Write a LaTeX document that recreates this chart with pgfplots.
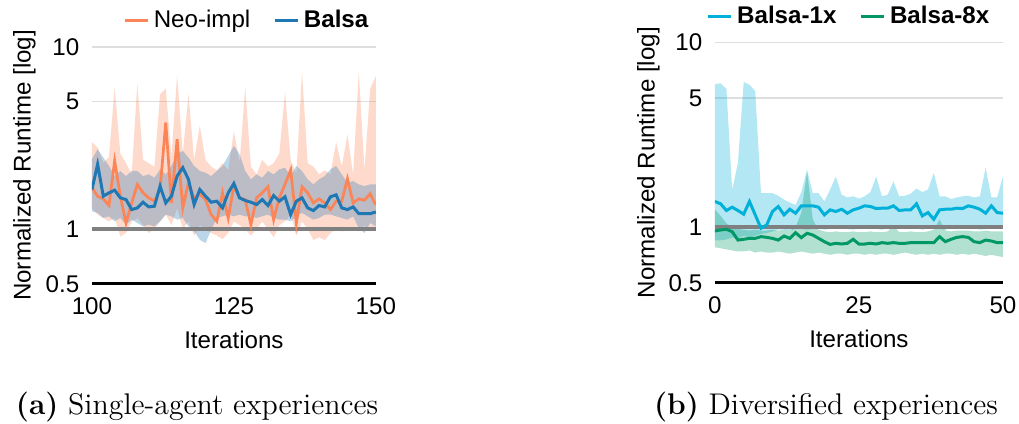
\documentclass[border=0pt]{standalone}
\usepackage{fontspec}
\usepackage{pgfplots}
\usepackage{pgfplotstable}
\pgfplotsset{compat=1.18}
\usepgfplotslibrary{fillbetween}
\newfontfamily\plotfont{Liberation Sans}
\newcommand\pfont{\plotfont\fontsize{10.5}{12}\selectfont}

\definecolor{neoc}{RGB}{252,133,88}
\definecolor{balsac}{RGB}{31,119,180}
\definecolor{onec}{RGB}{0,176,216}
\definecolor{eightc}{RGB}{0,152,102}
\definecolor{gridc}{RGB}{222,222,222}
\definecolor{refc}{RGB}{128,128,128}

% it, Neo-impl mean/lo/hi, Balsa mean/lo/hi
\pgfplotstableread{
it nm nlo nhi bm blo bhi
100 1.685 1.30 3.00 1.649 1.252 2.416
101 1.515 1.20 2.80 2.268 1.226 2.744
102 1.465 1.15 2.30 1.515 1.150 2.468
103 1.346 1.10 2.50 1.580 1.175 2.220
104 2.365 1.15 6.00 1.635 1.102 1.954
105 1.515 0.91 2.60 1.483 1.150 2.083
106 1.079 0.95 2.30 1.452 1.057 1.954
107 1.392 1.10 2.00 1.279 1.126 2.083
108 1.758 1.15 6.30 1.306 1.079 2.083
109 1.580 1.05 2.40 1.404 1.034 1.954
110 1.483 0.95 2.30 1.323 1.057 1.996
111 1.422 1.00 2.20 1.334 1.034 1.913
112 1.649 1.10 5.50 1.721 1.102 2.127
113 3.850 1.20 5.90 1.392 1.200 1.996
114 1.392 1.05 2.50 1.515 1.175 2.220
115 3.115 1.30 7.00 1.954 1.126 2.575
116 1.306 1.00 2.60 2.173 1.150 2.686
117 1.796 1.10 5.50 1.873 1.034 2.468
118 1.483 0.92 2.40 1.363 0.971 2.220
119 1.548 1.05 3.70 1.649 0.873 2.083
120 1.452 1.00 2.40 1.515 0.837 2.039
121 1.200 0.95 2.20 1.404 0.992 1.954
122 1.102 0.92 2.10 1.422 1.150 2.083
123 1.580 0.88 2.30 1.306 1.175 2.220
124 1.150 0.95 2.10 1.580 1.200 2.520
125 1.721 1.10 3.45 1.780 1.175 2.862
126 1.483 1.05 2.30 1.483 1.200 2.575
127 1.452 1.00 6.00 1.434 1.175 2.083
128 1.057 0.92 2.20 1.404 1.175 1.873
129 1.483 1.00 2.00 1.363 1.150 1.996
130 1.580 1.10 2.40 1.452 1.175 1.913
131 1.706 1.00 2.20 1.346 1.200 2.083
132 1.126 0.90 2.30 1.528 1.150 1.996
133 1.483 1.05 2.60 1.422 1.126 2.127
134 1.758 1.10 5.65 1.503 1.126 2.173
135 2.109 1.20 2.40 1.200 1.102 1.954
136 1.079 0.92 2.00 1.422 1.175 2.220
137 1.706 1.10 7.30 1.483 1.226 2.083
138 1.580 1.00 2.30 1.306 1.175 1.873
139 1.392 0.87 2.20 1.263 1.126 1.758
140 1.465 0.90 2.00 1.346 1.150 1.873
141 1.392 0.87 2.10 1.323 1.200 1.954
142 1.279 0.95 2.00 1.503 1.200 2.127
143 1.422 1.00 3.00 1.541 1.175 2.220
144 1.422 0.97 2.20 1.306 1.150 1.996
145 1.889 0.98 3.30 1.279 1.126 1.796
146 1.392 1.00 2.00 1.323 1.175 1.834
147 1.465 0.97 7.30 1.215 1.013 1.758
148 1.440 1.05 2.10 1.215 0.950 1.721
149 1.561 0.97 5.90 1.215 1.079 1.758
150 1.357 1.00 6.90 1.241 1.034 1.758
}\tabA

% it, Balsa-1x mean/lo/hi, Balsa-8x mean/lo/hi
\pgfplotstableread{
it cm clo chi gm glo ghi
0 1.379 0.85 5.94 0.955 0.78 1.25
1 1.339 0.85 6.00 0.967 0.77 1.15
2 1.232 0.86 5.60 0.975 0.76 1.05
3 1.284 0.88 1.59 0.947 0.75 1.00
4 1.232 0.87 2.23 0.853 0.74 0.98
5 1.177 0.90 6.10 0.861 0.74 0.97
6 1.379 0.88 5.90 0.871 0.75 0.96
7 1.167 0.90 5.45 0.871 0.73 0.97
8 0.988 0.92 1.53 0.890 0.74 0.96
9 1.030 0.93 1.53 0.882 0.73 0.96
10 1.217 0.95 1.53 0.871 0.73 0.97
11 1.295 0.97 1.48 0.853 0.74 0.96
12 1.167 0.97 1.41 0.897 0.73 0.97
13 1.252 0.96 1.36 0.871 0.72 0.96
14 1.191 0.98 1.32 0.935 0.73 1.00
15 1.306 0.98 1.55 0.879 0.74 1.20
16 1.306 0.97 2.05 0.928 0.73 2.00
17 1.306 0.98 1.53 0.908 0.72 1.10
18 1.284 0.99 1.53 0.871 0.73 0.97
19 1.167 0.97 1.38 0.836 0.72 0.95
20 1.242 0.98 1.60 0.808 0.71 0.94
21 1.217 0.99 1.88 0.819 0.72 0.95
22 1.252 1.00 1.50 0.812 0.72 0.94
23 1.191 0.98 1.45 0.819 0.71 0.94
24 1.242 0.97 1.47 0.861 0.72 0.95
25 1.268 0.99 1.43 0.812 0.72 0.94
26 1.306 1.00 1.47 0.812 0.71 0.94
27 1.295 1.00 1.55 0.819 0.72 0.95
28 1.263 0.98 1.88 0.812 0.71 0.94
29 1.268 0.97 1.47 0.826 0.72 0.94
30 1.268 0.99 1.50 0.819 0.72 0.95
31 1.306 1.00 1.77 0.826 0.71 1.02
32 1.232 0.99 1.47 0.819 0.72 0.94
33 1.242 0.98 1.48 0.819 0.73 0.94
34 1.242 1.00 1.52 0.826 0.72 0.95
35 1.339 1.00 1.62 0.826 0.71 0.94
36 1.152 0.97 1.55 0.826 0.72 0.94
37 1.201 0.99 1.60 0.826 0.71 0.95
38 1.105 1.00 1.97 0.826 0.72 0.97
39 1.242 0.98 1.47 0.890 0.71 1.10
40 1.252 0.97 1.47 0.836 0.72 0.96
41 1.252 0.99 1.42 0.861 0.72 0.95
42 1.268 1.00 1.45 0.882 0.71 0.96
43 1.263 0.98 1.47 0.890 0.72 0.96
44 1.306 0.99 1.48 0.882 0.71 0.96
45 1.284 1.00 1.45 0.836 0.72 0.95
46 1.252 0.97 1.47 0.826 0.71 0.95
47 1.191 0.98 2.10 0.853 0.70 0.96
48 1.306 0.99 1.45 0.843 0.71 0.95
49 1.201 1.00 1.45 0.826 0.70 0.95
50 1.191 0.99 1.88 0.826 0.69 0.95
}\tabB

\begin{document}
\begin{tikzpicture}
\path (0,0) rectangle (443.3pt,184.4pt);

% (a) single agent
\begin{axis}[
  at={(40.0pt,60.9pt)}, anchor=south west,
  scale only axis, width=123.5pt, height=103.1pt,
  xmin=100, xmax=150, xtick={100,125,150}, xticklabels={100,125,150},
  ymode=log, ymin=0.5, ymax=10,
  ytick={0.5,1,5,10}, yticklabels={0.5,1,5,10},
  axis x line*=bottom, axis y line*=left,
  x axis line style={-, black, line width=1.3pt},
  y axis line style={draw=none},
  major tick length=0pt,
  ymajorgrids, grid style={gridc, line width=0.6pt},
  label style={font=\pfont}, tick label style={font=\pfont},
  yticklabel style={xshift=-2pt}, xticklabel style={yshift=-2.5pt},
  xlabel={Iterations}, ylabel={Normalized Runtime [log]},
  ylabel style={yshift=-2.5pt},
  legend columns=2, legend cell align=left,
  legend style={draw=none, fill=none, font=\pfont, at={(0.55,1.025)}, anchor=south,
    /tikz/every even column/.append style={column sep=8pt}},
  legend image code/.code={\draw[#1, line width=1.3pt] (0pt,0pt) -- (10pt,0pt);},
]
\addplot[draw=none, name path=nhi, forget plot] table[x=it, y=nhi] {\tabA};
\addplot[draw=none, name path=nlo, forget plot] table[x=it, y=nlo] {\tabA};
\addplot[fill=neoc, fill opacity=0.3, draw=none, forget plot] fill between[of=nhi and nlo];
\addplot[draw=none, name path=bhi, forget plot] table[x=it, y=bhi] {\tabA};
\addplot[draw=none, name path=blo, forget plot] table[x=it, y=blo] {\tabA};
\addplot[fill=balsac, fill opacity=0.3, draw=none, forget plot] fill between[of=bhi and blo];
\addplot[refc, line width=1.6pt, forget plot] coordinates {(100,1) (150,1)};
\addplot[neoc, line width=1.2pt] table[x=it, y=nm] {\tabA};
\addlegendentry{Neo-impl}
\addplot[balsac, line width=1.3pt] table[x=it, y=bm] {\tabA};
\addlegendentry{\bfseries Balsa}
\end{axis}

% (b) diversified
\begin{axis}[
  at={(311.0pt,61.3pt)}, anchor=south west,
  scale only axis, width=125.3pt, height=104.7pt,
  xmin=0, xmax=50, xtick={0,25,50}, xticklabels={0,25,50},
  ymode=log, ymin=0.5, ymax=10,
  ytick={0.5,1,5,10}, yticklabels={0.5,1,5,10},
  axis x line*=bottom, axis y line*=left,
  x axis line style={-, black, line width=1.3pt},
  y axis line style={draw=none},
  major tick length=0pt,
  ymajorgrids, grid style={gridc, line width=0.6pt},
  label style={font=\pfont}, tick label style={font=\pfont},
  yticklabel style={xshift=-2pt}, xticklabel style={yshift=-2.5pt},
  xlabel={Iterations}, ylabel={Normalized Runtime [log]},
  ylabel style={yshift=-3pt},
  legend columns=2, legend cell align=left,
  legend style={draw=none, fill=none, font=\pfont, at={(0.47,1.025)}, anchor=south,
    /tikz/every even column/.append style={column sep=8pt}},
  legend image code/.code={\draw[#1, line width=1.3pt] (0pt,0pt) -- (10pt,0pt);},
]
\addplot[draw=none, name path=chi, forget plot] table[x=it, y=chi] {\tabB};
\addplot[draw=none, name path=clo, forget plot] table[x=it, y=clo] {\tabB};
\addplot[fill=onec, fill opacity=0.3, draw=none, forget plot] fill between[of=chi and clo];
\addplot[draw=none, name path=ghi, forget plot] table[x=it, y=ghi] {\tabB};
\addplot[draw=none, name path=glo, forget plot] table[x=it, y=glo] {\tabB};
\addplot[fill=eightc, fill opacity=0.3, draw=none, forget plot] fill between[of=ghi and glo];
\addplot[refc, line width=1.6pt, forget plot] coordinates {(0,1) (50,1)};
\addplot[onec, line width=1.3pt] table[x=it, y=cm] {\tabB};
\addlegendentry{\bfseries Balsa-1x}
\addplot[eightc, line width=1.3pt] table[x=it, y=gm] {\tabB};
\addlegendentry{\bfseries Balsa-8x}
\end{axis}

\node[font=\fontsize{13}{15}\selectfont] at (85.7pt,7.3pt) {\textbf{(a)} Single-agent experiences};
\node[font=\fontsize{13}{15}\selectfont] at (359.3pt,7.3pt) {\textbf{(b)} Diversified experiences};

\pgfresetboundingbox
\path[use as bounding box] (0,0) rectangle (443.3pt,184.4pt);
\end{tikzpicture}
\end{document}
